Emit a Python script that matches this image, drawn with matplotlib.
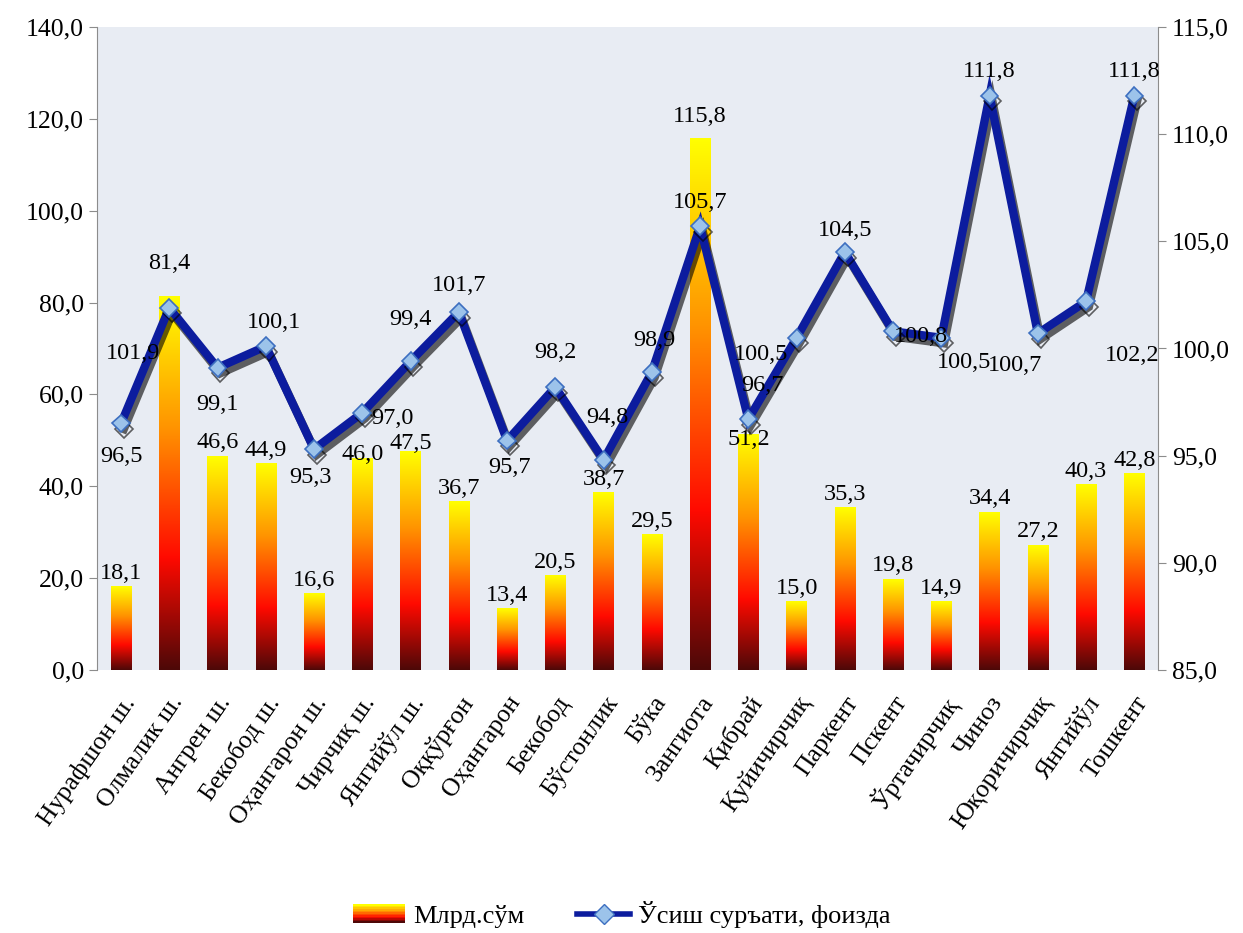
import numpy as np
import matplotlib
matplotlib.use("Agg")
import matplotlib.pyplot as plt
import matplotlib.patheffects as pe
from matplotlib.colors import LinearSegmentedColormap
from matplotlib.legend_handler import HandlerBase
from matplotlib.patches import Rectangle
from matplotlib.lines import Line2D
from matplotlib.ticker import FuncFormatter

plt.rcParams['font.family'] = ['Liberation Serif', 'DejaVu Serif']
plt.rcParams['font.size'] = 17.5

# data
districts = ["Нурафшон ш.", "Олмалик ш.", "Ангрен ш.", "Бекобод ш.", "Оҳангарон ш.",
             "Чирчиқ ш.", "Янгийўл ш.", "Оққўрғон", "Оҳангарон", "Бекобод",
             "Бўстонлик", "Бўка", "Зангиота", "Қибрай", "Қуйичирчиқ", "Паркент",
             "Пскент", "Ўртачирчиқ", "Чиноз", "Юқоричирчиқ", "Янгийўл", "Тошкент"]
volume = [18.1, 81.4, 46.6, 44.9, 16.6, 46.0, 47.5, 36.7, 13.4, 20.5, 38.7,
          29.5, 115.8, 51.2, 15.0, 35.3, 19.8, 14.9, 34.4, 27.2, 40.3, 42.8]
growth = [96.5, 101.9, 99.1, 100.1, 95.3, 97.0, 99.4, 101.7, 95.7, 98.2, 94.8,
          98.9, 105.7, 96.7, 100.5, 104.5, 100.8, 100.5, 111.8, 100.7, 102.2, 111.8]

# label offsets (pixels) for the growth labels
growth_off = [(0, -33), (-36, -46), (0, -37), (8, 24), (-4, -28), (30, -6), (0, 42),
              (0, 27), (2, -27), (0, 35), (4, 42), (3, 32), (0, 24), (14, 34),
              (-36, -17), (0, 22), (28, -5), (23, -25), (0, 24), (-23, -32),
              (46, -54), (0, 24)]
bar_off = {1: 20, 5: -9, 6: -5, 12: 9, 13: -18}

fire = LinearSegmentedColormap.from_list(
    "fire", [(0, "#4d0808"), (0.3, "#ff0a00"), (0.65, "#ff9400"), (1, "#ffff00")])

fig = plt.figure(figsize=(12.43, 9.33), dpi=100)
ax = fig.add_axes([0.078, 0.282, 0.854, 0.689])
ax.set_facecolor("#e8ecf3")
ax2 = ax.twinx()

x = np.arange(len(districts))
w = 0.42
grad = np.linspace(0, 1, 256).reshape(-1, 1)
for i, v in enumerate(volume):
    ax.imshow(grad, cmap=fire, origin="lower", aspect="auto",
              extent=[x[i] - w / 2, x[i] + w / 2, 0, v], zorder=2)
    ax.annotate(f"{v:.1f}".replace(".", ","), (x[i], v),
                xytext=(0, 13 + bar_off.get(i, 0)), textcoords="offset pixels",
                ha="center", va="center", zorder=5)

ax.set_xlim(-0.5, len(districts) - 0.5)
ax.set_ylim(0, 140)
ax.set_yticks(np.arange(0, 141, 20))
ax2.set_ylim(85, 115)
ax2.set_yticks(np.arange(85, 116, 5))
fmt = FuncFormatter(lambda v, p: f"{v:.1f}".replace(".", ","))
ax.yaxis.set_major_formatter(fmt)
ax2.yaxis.set_major_formatter(fmt)

ax2.plot(x, growth, color="#0c1c9e", lw=6, solid_joinstyle="miter",
         marker="D", markersize=9, markerfacecolor="#9cc3ea",
         markeredgecolor="#3d6fc0", markeredgewidth=1.2, zorder=4,
         path_effects=[pe.SimpleLineShadow(offset=(2, -4), shadow_color="k", alpha=0.6),
                       pe.Normal()])
for i, g in enumerate(growth):
    ax2.annotate(f"{g:.1f}".replace(".", ","), (x[i], g), xytext=growth_off[i],
                 textcoords="offset pixels", ha="center", va="center", zorder=6)

ax.set_xticks(x)
ax.set_xticklabels(districts, rotation=55, ha="right", rotation_mode="anchor",
                   fontsize=18.5)
ax.tick_params(axis="x", length=0, pad=16)
for a in (ax, ax2):
    for s in ("top", "bottom"):
        a.spines[s].set_visible(False)
    a.spines["left"].set_color("#8c8c8c")
    a.spines["right"].set_color("#8c8c8c")
ax2.spines["left"].set_visible(False)
ax.spines["right"].set_visible(False)
ax.tick_params(axis="y", color="#8c8c8c", length=6, labelsize=18.5)
ax2.tick_params(axis="y", color="#8c8c8c", length=6, labelsize=18.5)


class GradientHandler(HandlerBase):
    def create_artists(self, legend, orig, xd, yd, width, height, fontsize, trans):
        n = 12
        arts = []
        for k in range(n):
            r = Rectangle((xd, yd + height * k / n), width, height / n + 0.3,
                          facecolor=fire(k / (n - 1)), edgecolor="none", transform=trans)
            arts.append(r)
        return arts


bar_handle = Rectangle((0, 0), 1, 1)
line_handle = Line2D([], [], color="#0c1c9e", lw=4, marker="D", markersize=10,
                     markerfacecolor="#9cc3ea", markeredgecolor="#3d6fc0")
fig.legend([bar_handle, line_handle], ["Млрд.сўм", "Ўсиш суръати, фоизда"],
           handler_map={Rectangle: GradientHandler()}, loc="center",
           bbox_to_anchor=(0.5, 0.02), ncol=2, frameon=False, fontsize=19,
           handlelength=2.0, handletextpad=0.3, columnspacing=2.0)

fig.savefig("out.png", dpi=100)
